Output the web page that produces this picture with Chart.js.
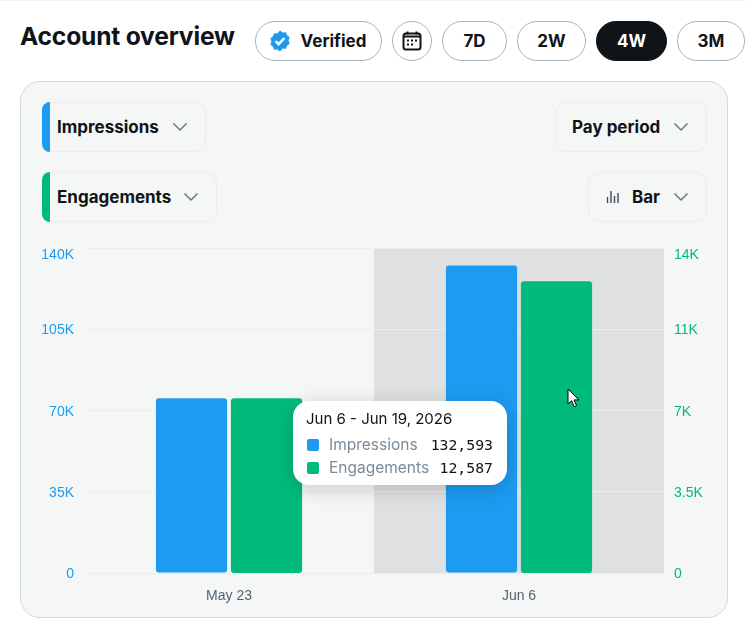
<!DOCTYPE html>
<html>
<head>
<meta charset="utf-8">
<title>Account overview</title>
<script src="https://cdn.jsdelivr.net/npm/chart.js@4"></script>
<style>
  html, body { margin: 0; padding: 0; background: #fff; }
  body { width: 746px; height: 626px; position: relative; overflow: hidden; font-family: Inter, sans-serif; color: #0f1419; }
  .topline { position: absolute; left: 0; top: 0; width: 746px; height: 1px; background: #eff3f4; }
  h1 { position: absolute; left: 20px; top: 20px; margin: 0; font-size: 24.6px; line-height: 32px; font-weight: 700; letter-spacing: -0.2px; }
  .pill { position: absolute; top: 21px; height: 38px; border: 1px solid #a6b5c2; border-radius: 20px; background: #fff;
    display: flex; align-items: center; justify-content: center; font-size: 17px; font-weight: 700; box-sizing: content-box; }
  .pill.on { background: #0f1419; border-color: #0f1419; color: #fff; }
  .card { position: absolute; left: 20px; top: 81px; width: 706px; height: 535px; background: #f5f7f7; border: 1px solid #cfd9de; border-radius: 20px; }
  .drop { position: absolute; height: 48px; border: 1px solid #e9edef; border-radius: 11px; display: flex; align-items: center;
    font-size: 17px; font-weight: 700; box-sizing: content-box; }
  .drop .tab { position: absolute; left: -1px; top: -1px; bottom: -1px; width: 8px; border-radius: 8px 0 0 8px; }
  .drop svg.chev { position: absolute; width: 18px; height: 18px; }
  #wrap { position: absolute; left: 30px; top: 230px; width: 690px; height: 380px; }
  #tip { position: absolute; left: 293px; top: 401px; width: 214px; height: 84px; background: #fff; border-radius: 16px;
    box-shadow: 0 4px 20px rgba(0,0,0,.18); font-size: 15px; box-sizing: border-box; }
  #tip .ttl { position: absolute; left: 13px; top: 8px; line-height: 20px; }
  #tip .row { position: absolute; left: 14px; right: 14px; height: 20px; line-height: 20px; color: #7c8b98; font-size: 15.5px; }
  #tip .sw { position: absolute; left: 0; top: 4px; width: 12px; height: 12px; border-radius: 2px; }
  #tip .nm { position: absolute; left: 22px; top: 0; }
  #tip .val { position: absolute; right: 0; top: 0; font-family: "DejaVu Sans Mono", monospace; font-size: 14.8px; color: #0f1419; }
  #cursor { position: absolute; left: 567px; top: 388px; }
</style>
</head>
<body>
<div class="topline"></div>
<h1>Account overview</h1>

<div class="pill" style="left:255px;width:125px">
  <svg width="24" height="24" viewBox="0 0 24 24" style="margin-right:9px;margin-left:-3px"><path fill="#1d9bf0" d="M12 1.5l2.7 1.9 3.3-.2 1 3.1 2.6 2-1 3.2 1 3.2-2.6 2-1 3.1-3.3-.2L12 22.5l-2.7-1.9-3.3.2-1-3.1-2.6-2 1-3.2-1-3.2 2.6-2 1-3.1 3.3.2z"/><path fill="none" stroke="#fff" stroke-width="2.4" d="M7.6 12.2l3 3 5.8-6"/></svg>Verified
</div>
<div class="pill" style="left:392px;width:38px">
  <svg width="20" height="20" viewBox="0 0 20 20"><rect x="1.5" y="2.5" width="17" height="16" rx="2.5" fill="none" stroke="#0f1419" stroke-width="2"/><path stroke="#0f1419" stroke-width="2" d="M5.5 0.5v3M14.5 0.5v3M2 5.5h16"/><path stroke="#0f1419" stroke-width="2" stroke-dasharray="2 2" d="M5 9.5h10M5 13.5h6"/></svg>
</div>
<div class="pill" style="left:442px;width:63px">7D</div>
<div class="pill" style="left:517px;width:67px">2W</div>
<div class="pill on" style="left:596px;width:69px">4W</div>
<div class="pill" style="left:677px;width:66px">3M</div>

<div class="card"></div>

<div class="drop" style="left:42px;top:102px;width:162px"><span class="tab" style="background:#1d9bf0"></span><span style="margin-left:14px">Impressions</span>
  <svg class="chev" style="left:128px;top:15px" viewBox="0 0 18 18"><path fill="none" stroke="#687782" stroke-width="1.5" d="M2.5 5.5L9 12l6.5-6.5"/></svg></div>
<div class="drop" style="left:42px;top:172px;width:173px"><span class="tab" style="background:#00ba7c"></span><span style="margin-left:14px">Engagements</span>
  <svg class="chev" style="left:139px;top:15px" viewBox="0 0 18 18"><path fill="none" stroke="#687782" stroke-width="1.5" d="M2.5 5.5L9 12l6.5-6.5"/></svg></div>
<div class="drop" style="left:555px;top:102px;width:150px"><span style="margin-left:16px">Pay period</span>
  <svg class="chev" style="left:116px;top:15px" viewBox="0 0 18 18"><path fill="none" stroke="#687782" stroke-width="1.5" d="M2.5 5.5L9 12l6.5-6.5"/></svg></div>
<div class="drop" style="left:588px;top:172px;width:117px">
  <svg style="position:absolute;left:17px;top:17px" width="14" height="14" viewBox="0 0 14 14"><path stroke="#3e4a54" stroke-width="1.4" d="M1.5 13V7M5 13V1M8.5 13V6M12 13V3"/></svg>
  <span style="margin-left:43px">Bar</span>
  <svg class="chev" style="left:83px;top:15px" viewBox="0 0 18 18"><path fill="none" stroke="#687782" stroke-width="1.5" d="M2.5 5.5L9 12l6.5-6.5"/></svg></div>

<div id="wrap"><canvas id="chart-1"></canvas></div>
<div id="tip"></div>
<svg id="cursor" width="14" height="20" viewBox="0 0 14 20"><path d="M1 1v15l3.6-3.3 2.6 6 2.4-1-2.6-5.8H12z" fill="#fff" stroke="#000" stroke-width="1"/></svg>

<script>
const periods = ['May 23', 'Jun 6'];
const periodRanges = ['May 23 - Jun 5, 2026', 'Jun 6 - Jun 19, 2026'];
const impressions = [75400, 132593];
const engagements = [7540, 12587];
const leftTicks = ['0', '35K', '70K', '105K', '140K'];
const rightTicks = ['0', '3.5K', '7K', '11K', '14K'];

const hoveredPeriod = 1;

// grey band behind the hovered period, sits under the grid lines
const hoverBand = {
  id: 'hoverBand',
  beforeDraw(chart) {
    const { ctx, chartArea, scales } = chart;
    const half = (scales.x.getPixelForValue(1) - scales.x.getPixelForValue(0)) / 2;
    const mid = scales.x.getPixelForValue(hoveredPeriod);
    ctx.save();
    ctx.fillStyle = '#dfe0e2';
    ctx.fillRect(mid - half, chartArea.top, half * 2, chartArea.height);
    ctx.restore();
  }
};

// labels sit a pixel low, and the top one hangs below its grid line
const topLabelDrop = {
  id: 'topLabelDrop',
  afterUpdate(chart) {
    ['y', 'y2'].forEach(id => {
      const items = chart.scales[id].getLabelItems();
      items.forEach(item => { item.textOffset += 1; });
      items[items.length - 1].textOffset += 6;
    });
  }
};

const chart = new Chart(document.getElementById('chart-1'), {
  type: 'bar',
  plugins: [hoverBand, topLabelDrop],
  data: {
    labels: periods,
    datasets: [
      { label: 'Impressions', data: impressions, yAxisID: 'y', backgroundColor: '#1d9bf0', borderRadius: 3, borderSkipped: false },
      { label: 'Engagements', data: engagements, yAxisID: 'y2', backgroundColor: '#00ba7c', borderRadius: 3, borderSkipped: false }
    ]
  },
  options: {
    responsive: true,
    maintainAspectRatio: false,
    animation: false,
    events: [],
    layout: { padding: { top: 0 } },
    datasets: { bar: { categoryPercentage: 0.517, barPercentage: 0.95 } },
    scales: {
      x: {
        grid: { display: false },
        border: { color: '#e9edef' },
        ticks: { color: '#536471', font: { family: 'Liberation Sans', size: 14 }, padding: 7, maxRotation: 0 },
        afterFit(s) { s.height = 37; }
      },
      y: {
        position: 'left',
        min: 0,
        max: 140000,
        grid: { color: '#e9edef', drawTicks: false },
        border: { display: false },
        ticks: {
          stepSize: 35000,
          color: '#1d9bf0',
          font: { family: 'Liberation Sans', size: 14 },
          padding: 10,
          callback: (v, i) => leftTicks[i]
        },
        afterFit(s) { s.width = 54; }
      },
      y2: {
        position: 'right',
        min: 0,
        max: 14000,
        grid: { display: false },
        border: { display: false },
        ticks: {
          stepSize: 3500,
          color: '#00ba7c',
          font: { family: 'Liberation Sans', size: 14 },
          padding: 2,
          callback: (v, i) => rightTicks[i]
        },
        afterFit(s) { s.width = 56; }
      }
    },
    plugins: {
      legend: { display: false },
      tooltip: {
        enabled: false,
        mode: 'index',
        external({ tooltip }) {
          const tip = document.getElementById('tip');
          const rows = tooltip.dataPoints.map((p, i) =>
            '<div class="row" style="top:' + (34 + i * 23) + 'px">' +
            '<span class="sw" style="background:' + p.dataset.backgroundColor + '"></span>' +
            '<span class="nm">' + p.dataset.label + '</span>' +
            '<span class="val">' + p.raw.toLocaleString('en-US') + '</span></div>');
          tip.innerHTML = '<div class="ttl">' + periodRanges[tooltip.dataPoints[0].dataIndex] + '</div>' + rows.join('');
        }
      }
    }
  }
});

chart.tooltip.setActiveElements([
  { datasetIndex: 0, index: hoveredPeriod },
  { datasetIndex: 1, index: hoveredPeriod }
], { x: 537, y: 155 });
chart.update();
</script>
</body>
</html>
